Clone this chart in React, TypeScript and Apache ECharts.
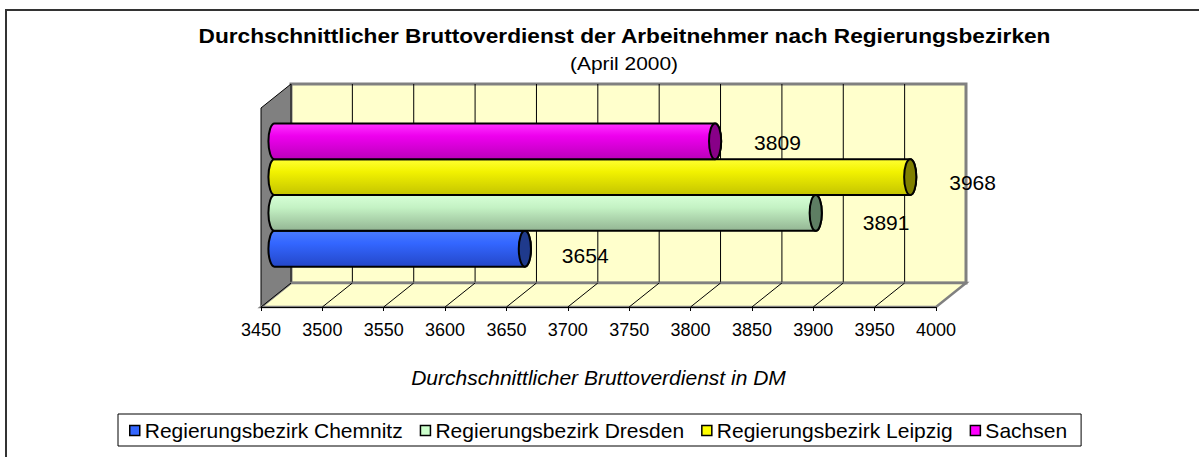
import React, { useEffect, useRef } from "react";
import * as echarts from "echarts";

const titleText = "Durchschnittlicher Bruttoverdienst der Arbeitnehmer nach Regierungsbezirken";
const subtitleText = "(April 2000)";
const axisTitle = "Durchschnittlicher Bruttoverdienst in DM";
const categories = ["April 2000"];
const seriesNames = [
  "Regierungsbezirk Chemnitz",
  "Regierungsbezirk Dresden",
  "Regierungsbezirk Leipzig",
  "Sachsen",
];
const seriesValues = [3654, 3891, 3968, 3809];
const xTicks = [3450, 3500, 3550, 3600, 3650, 3700, 3750, 3800, 3850, 3900, 3950, 4000];

const FONT = "'Liberation Sans', Arial, sans-serif";

const barStyles = [
  { base: "#3366FF", top: "#4A7BFF", mid: "#3366FF", bottom: "#2447C8", cap: "#1F3A8C", label: [37, 7] },
  { base: "#CCFFCC", top: "#D6FFD6", mid: "#C4F2C4", bottom: "#93B593", cap: "#5E7E63", label: [47, 10] },
  { base: "#FFFF00", top: "#FFFF33", mid: "#F2F200", bottom: "#C4C400", cap: "#808000", label: [39, 5] },
  { base: "#FF00FF", top: "#FF33FF", mid: "#EE00EE", bottom: "#BB00BB", cap: "#880088", label: [39, 1] },
];

const DEPTH_X = 30;
const DEPTH_Y = -24;

export default function App() {
  const ref = useRef<HTMLDivElement>(null);

  useEffect(() => {
    if (!ref.current) return;
    const chart = echarts.init(ref.current, undefined, { renderer: "svg" });

    const xMin = xTicks[0];
    const xMax = xTicks[xTicks.length - 1];
    const xStep = xTicks[1] - xTicks[0];

    const renderFrame = (params: any, api: any) => {
      const cs = params.coordSys;
      const x = cs.x, y = cs.y, w = cs.width, h = cs.height;
      const children: any[] = [];
      children.push({
        type: "rect",
        shape: { x: x + DEPTH_X, y: y + DEPTH_Y, width: w, height: h },
        style: { fill: "#FFFFCC", stroke: "#808080", lineWidth: 3 },
      });
      xTicks.forEach((v, i) => {
        if (i === 0 || i === xTicks.length - 1) return;
        const px = api.coord([v, 0])[0] + DEPTH_X;
        children.push({
          type: "line",
          shape: { x1: px, y1: y + DEPTH_Y, x2: px, y2: y + h + DEPTH_Y },
          style: { stroke: "#000", lineWidth: 1 },
        });
      });
      children.push({
        type: "polygon",
        shape: { points: [[x, y], [x + DEPTH_X, y + DEPTH_Y], [x + DEPTH_X, y + h + DEPTH_Y], [x, y + h]] },
        style: { fill: "#808080", stroke: "#000", lineWidth: 1 },
      });
      children.push({
        type: "polygon",
        shape: { points: [[x, y + h], [x + DEPTH_X, y + h + DEPTH_Y], [x + w + DEPTH_X, y + h + DEPTH_Y], [x + w, y + h]] },
        style: { fill: "#FFFFCC", stroke: "#808080", lineWidth: 2.5 },
      });
      xTicks.forEach((v, i) => {
        if (i === xTicks.length - 1) return;
        const px = api.coord([v, 0])[0];
        children.push({
          type: "line",
          shape: { x1: px, y1: y + h, x2: px + DEPTH_X, y2: y + h + DEPTH_Y },
          style: { stroke: "#000", lineWidth: 1 },
        });
      });
      return { type: "group", children };
    };

    const makeBarRenderer = (idx: number) => (params: any, api: any) => {
      const st = barStyles[idx];
      const val = api.value(0);
      const cat = api.value(1);
      const end = api.coord([val, cat]);
      const start = api.coord([xMin, cat]);
      const band = api.size([0, 1])[1];
      const bh = (band * 0.72) / seriesNames.length;
      const ox = DEPTH_X * 0.45;
      const oy = DEPTH_Y * 0.52;
      const cy = end[1] + oy + (1.5 - idx) * bh;
      const x0 = start[0] + ox;
      const x1 = end[0] + ox;
      const ry = bh / 2;
      const rx = bh * 0.17;
      const d = `M${x0},${cy - ry} L${x1},${cy - ry} A${rx},${ry} 0 0 1 ${x1},${cy + ry} L${x0},${cy + ry} A${rx},${ry} 0 0 1 ${x0},${cy - ry} Z`;
      return {
        type: "group",
        children: [
          {
            type: "path",
            shape: { pathData: d },
            style: {
              fill: new echarts.graphic.LinearGradient(0, 0, 0, 1, [
                { offset: 0, color: st.top },
                { offset: 0.35, color: st.mid },
                { offset: 1, color: st.bottom },
              ]),
              stroke: "#000",
              lineWidth: 2,
            },
          },
          {
            type: "ellipse",
            shape: { cx: x1, cy, rx, ry },
            style: { fill: st.cap, stroke: "#000", lineWidth: 2 },
          },
          {
            type: "text",
            x: x1 + st.label[0],
            y: cy + st.label[1],
            style: {
              text: String(val),
              fontSize: 21,
              fontFamily: FONT,
              fill: "#000",
              align: "left",
              verticalAlign: "middle",
            },
          },
        ],
      };
    };

    const option: any = {
      animation: false,
      backgroundColor: "#fff",
      textStyle: { fontFamily: FONT },
      grid: { left: 261, top: 108, width: 675, height: 199, containLabel: false },
      xAxis: {
        type: "value",
        min: xMin,
        max: xMax,
        interval: xStep,
        z: 5,
        axisLine: { show: true, lineStyle: { color: "#000", width: 1 } },
        axisTick: { show: true, length: 4, lineStyle: { color: "#000" } },
        axisLabel: {
          fontSize: 18,
          color: "#000",
          fontFamily: FONT,
          margin: 14,
          formatter: (v: number) => String(v),
        },
        splitLine: { show: false },
        name: axisTitle,
        nameLocation: "middle",
        nameGap: 60,
        nameTextStyle: { fontSize: 21, fontStyle: "italic", color: "#000", fontFamily: FONT },
      },
      yAxis: {
        type: "category",
        data: categories,
        show: false,
      },
      legend: {
        data: seriesNames,
        left: 118,
        top: 414,
        orient: "horizontal",
        icon: "rect",
        itemWidth: 10,
        itemHeight: 10,
        itemGap: 17,
        padding: [6, 14, 5, 11],
        borderColor: "#000",
        borderWidth: 1,
        borderRadius: 0,
        textStyle: { fontSize: 21, color: "#000", fontFamily: FONT, padding: [0, 0, 0, 0] },
        itemStyle: { borderColor: "#000", borderWidth: 1.5 },
      },
      graphic: [
        {
          type: "rect",
          z: -10,
          shape: { x: 6, y: 10, width: 1210, height: 470 },
          style: { fill: "none", stroke: "#333", lineWidth: 2 },
        },
        {
          type: "text",
          x: 624.5,
          y: 36,
          scaleX: 1.08,
          style: {
            text: titleText,
            fontSize: 21,
            fontWeight: "bold",
            fontFamily: FONT,
            fill: "#000",
            align: "center",
            verticalAlign: "middle",
          },
        },
        {
          type: "text",
          x: 624,
          y: 63,
          scaleX: 1.1,
          style: {
            text: subtitleText,
            fontSize: 19,
            fontFamily: FONT,
            fill: "#000",
            align: "center",
            verticalAlign: "middle",
          },
        },
      ],
      series: [
        {
          type: "custom",
          name: "frame",
          silent: true,
          z: 1,
          renderItem: renderFrame,
          data: [[xMin, 0]],
        },
        ...seriesNames.map((name, i) => ({
          type: "custom",
          name,
          z: 3,
          itemStyle: { color: barStyles[i].base },
          renderItem: makeBarRenderer(i),
          data: [[seriesValues[i], 0]],
        })),
      ],
    };

    chart.setOption(option);
    return () => chart.dispose();
  }, []);

  return (
    <div
      ref={ref}
      style={{ position: "absolute", left: 0, top: 0, width: 1199, height: 457, background: "#fff" }}
    />
  );
}
